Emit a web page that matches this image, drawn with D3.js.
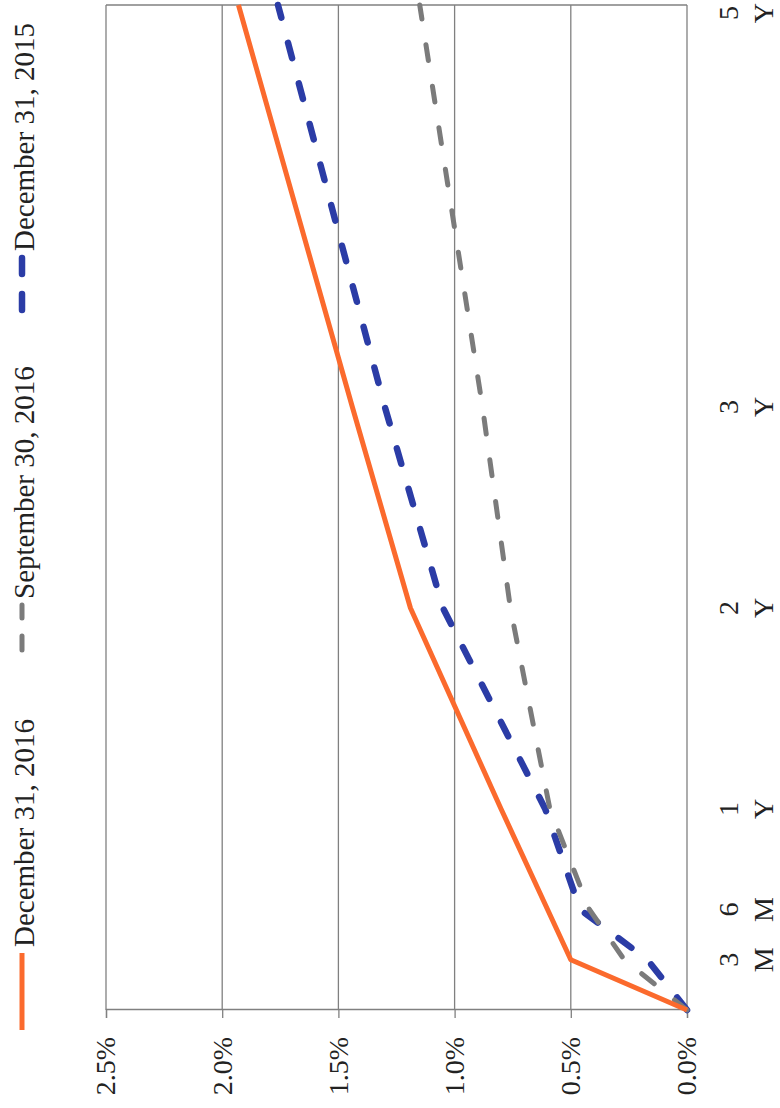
<!DOCTYPE html>
<html lang="en">
<head>
<meta charset="utf-8">
<title>Yield curves</title>
<script src="https://cdn.jsdelivr.net/npm/d3@7"></script>
<style>
  html, body { margin: 0; padding: 0; background: #fff; }
  svg { display: block; }
  text { font-family: "Liberation Serif", "DejaVu Serif", serif; fill: #222; }
</style>
</head>
<body>
<svg id="chart" width="780" height="1108"></svg>
<script>
// tenor in months, values in percent
const tenorMonths = [0, 3, 6, 12, 24, 36, 60];
const tickMonths = [3, 6, 12, 24, 36, 60];
const tickNumbers = ["3", "6", "1", "2", "3", "5"];
const tickUnits = ["M", "M", "Y", "Y", "Y", "Y"];
const valueTicks = [0, 0.5, 1.0, 1.5, 2.0, 2.5];

const seriesNames = ["December 31, 2016", "September 30, 2016", "December 31, 2015"];
const dec2016 = [0, 0.50, 0.60, 0.80, 1.19, 1.44, 1.93];
const sep2016 = [0, 0.27, 0.42, 0.59, 0.76, 0.88, 1.15];
const dec2015 = [0, 0.17, 0.46, 0.61, 1.05, 1.30, 1.76];

const series = [
  { name: seriesNames[0], values: dec2016, color: "#fb6a2d", width: 5, dash: null, legendDash: null, legendX: 78, legendLen: 77 },
  { name: seriesNames[1], values: sep2016, color: "#7b7b7b", width: 5, dash: "16 26", legendDash: "14 18", legendX: 458, legendLen: 45 },
  { name: seriesNames[2], values: dec2015, color: "#2b3ca6", width: 6.5, dash: "16 26", legendDash: "16 20", legendX: 798, legendLen: 53 },
];

// chart is laid out upright (1108 wide x 780 tall) then turned a quarter to the left
const W = 1108;
const svg = d3.select("#chart");
const g = svg.append("g").attr("transform", `translate(0,${W}) rotate(-90)`);

const x = d3.scaleLinear().domain([0, 60]).range([98, 1103]);
const y = d3.scaleLinear().domain([0, 2.5]).range([687, 106]);

const gridColor = "#808080";

// gridlines
g.append("g")
  .selectAll("line")
  .data(valueTicks.filter((d) => d > 0))
  .join("line")
  .attr("x1", x(0)).attr("x2", x(60))
  .attr("y1", (d) => y(d)).attr("y2", (d) => y(d))
  .attr("stroke", gridColor)
  .attr("stroke-width", 1.3);

// right border and bottom axis line
g.append("line")
  .attr("x1", x(60)).attr("x2", x(60))
  .attr("y1", y(2.5)).attr("y2", y(0))
  .attr("stroke", gridColor).attr("stroke-width", 1.3);
g.append("line")
  .attr("x1", x(0)).attr("x2", x(60))
  .attr("y1", y(0)).attr("y2", y(0))
  .attr("stroke", gridColor).attr("stroke-width", 1.3);

// value axis
const yAxis = g.append("g")
  .attr("transform", `translate(${x(0)},0)`)
  .call(d3.axisLeft(y)
    .tickValues(valueTicks)
    .tickSize(8)
    .tickPadding(19)
    .tickFormat((d) => d3.format(".1f")(d) + "%"));
yAxis.select(".domain").attr("stroke", gridColor).attr("stroke-width", 1.3);
yAxis.selectAll(".tick line").attr("stroke", gridColor).attr("stroke-width", 1.3);
yAxis.selectAll(".tick text")
  .attr("font-family", '"Liberation Serif", serif')
  .attr("font-size", 28)
  .attr("fill", "#222");

// tenor labels, number over unit (last one kept inside the page edge)
const last = tickMonths.length - 1;
const cat = g.append("g")
  .selectAll("g")
  .data(tickMonths)
  .join("g")
  .attr("transform", (d, i) => `translate(${i === last ? x(d) + 2 : x(d)},0)`);
cat.append("text")
  .attr("y", 738)
  .attr("text-anchor", (d, i) => (i === last ? "end" : "middle"))
  .attr("dx", (d, i) => (i === last ? -3 : 0))
  .attr("font-size", 28)
  .text((d, i) => tickNumbers[i]);
cat.append("text")
  .attr("y", 773)
  .attr("text-anchor", (d, i) => (i === last ? "end" : "middle"))
  .attr("font-size", 28)
  .text((d, i) => tickUnits[i]);

// series
const line = d3.line()
  .x((d, i) => x(tenorMonths[i]))
  .y((d) => y(d));

g.append("g")
  .selectAll("path")
  .data(series.slice().reverse())
  .join("path")
  .attr("d", (d) => line(d.values))
  .attr("fill", "none")
  .attr("stroke", (d) => d.color)
  .attr("stroke-width", (d) => d.width)
  .attr("stroke-dasharray", (d) => d.dash)
  .attr("stroke-linecap", (d) => (d.dash ? "round" : "butt"))
  .attr("stroke-linejoin", "round");

// legend
const leg = g.append("g")
  .selectAll("g")
  .data(series)
  .join("g")
  .attr("transform", (d) => `translate(${d.legendX},22)`);
leg.append("line")
  .attr("x1", 0).attr("x2", (d) => d.legendLen)
  .attr("stroke", (d) => d.color)
  .attr("stroke-width", (d) => d.width)
  .attr("stroke-dasharray", (d) => d.legendDash)
  .attr("stroke-linecap", (d) => (d.legendDash ? "round" : "butt"));
leg.append("text")
  .attr("x", (d) => d.legendLen + 6)
  .attr("y", 12)
  .attr("font-size", 29)
  .text((d) => d.name);
</script>
</body>
</html>
